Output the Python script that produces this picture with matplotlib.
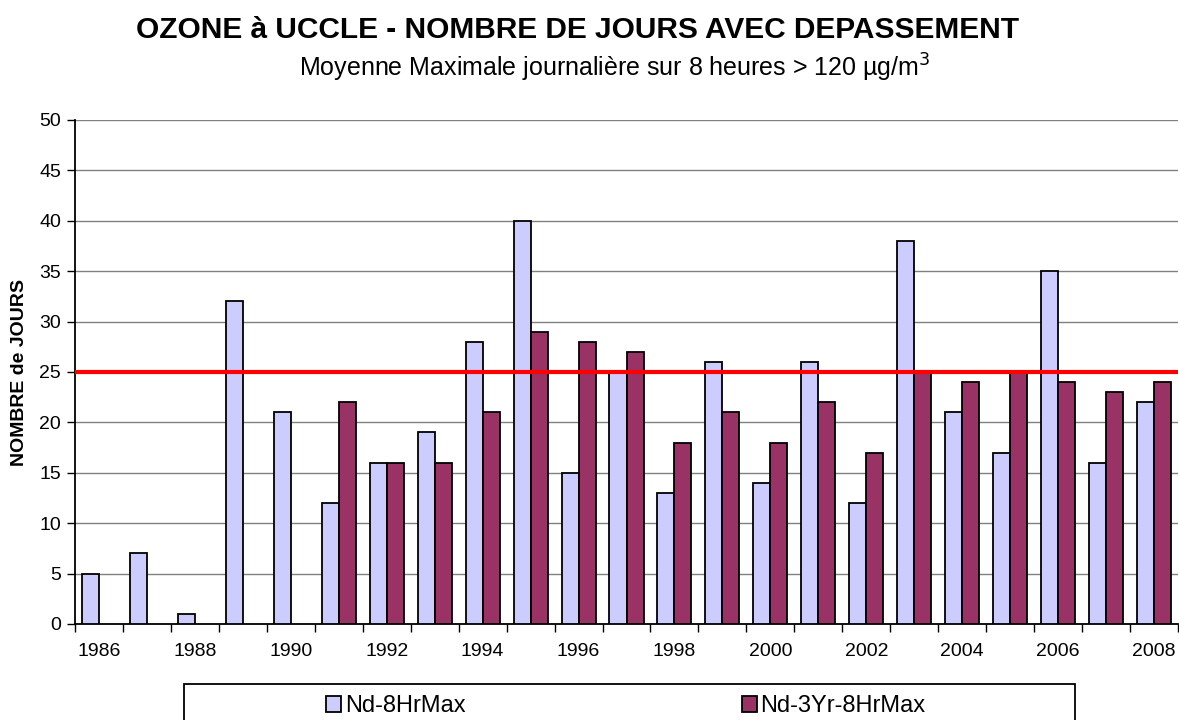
import numpy as np
import matplotlib.pyplot as plt
from matplotlib.patches import Rectangle

plt.rcParams['font.family'] = ['Liberation Sans', 'DejaVu Sans']

years = list(range(1986, 2009))
nd_8hrmax = [5, 7, 1, 32, 21, 12, 16, 19, 28, 40, 15, 25, 13, 26, 14, 26, 12, 38, 21, 17, 35, 16, 22]
nd_3yr_8hrmax = [0, 0, 0, 0, 0, 22, 16, 16, 21, 29, 28, 27, 18, 21, 18, 22, 17, 25, 24, 25, 24, 23, 24]
seuil = 25

fig = plt.figure(figsize=(11.79, 7.2), dpi=100)
ax = fig.add_axes([75/1179, 1-624/720, 1103/1179, 504/720])

x = np.arange(len(years))
w = 0.355
ax.bar(x - w/2, nd_8hrmax, w, color='#ccccff', edgecolor='black', linewidth=1.3,
       label='Nd-8HrMax', zorder=3)
# 3-year mean only exists from 1991
x3 = [xi for xi, v in zip(x, nd_3yr_8hrmax) if v > 0]
v3 = [v for v in nd_3yr_8hrmax if v > 0]
ax.bar(np.array(x3) + w/2, v3, w, color='#993366', edgecolor='black', linewidth=1.3,
       label='Nd-3Yr-8HrMax', zorder=3)
ax.axhline(seuil, color='#ff0000', linewidth=3, zorder=4)

ax.set_xlim(-0.5, len(years) - 0.5)
ax.set_ylim(0, 50)
ax.set_yticks(range(0, 51, 5))
ax.set_xticks(x[::2])
ax.set_xticklabels([str(y) for y in years[::2]])
ax.set_xticks(np.arange(-0.5, len(years), 1), minor=True)
ax.tick_params(axis='x', which='major', length=0, pad=14, labelsize=14)
ax.tick_params(axis='x', which='minor', length=6, width=1, color='black')
ax.tick_params(axis='y', length=6, width=1, labelsize=14, pad=4)
ax.grid(axis='y', color='#808080', linewidth=1, zorder=0)
for s in ['top', 'right']:
    ax.spines[s].set_visible(False)
ax.spines['left'].set_linewidth(1.3)
ax.spines['bottom'].set_linewidth(1.3)
ax.set_ylabel('NOMBRE de JOURS', fontsize=14, fontweight='bold', labelpad=8)

fig.text(578/1179, 1-30/720, 'OZONE à UCCLE - NOMBRE DE JOURS AVEC DEPASSEMENT',
         ha='center', va='center', fontsize=21.5, fontweight='bold')
fig.text(615/1179, 1-68/720, 'Moyenne Maximale journalière sur 8 heures > 120 µg/m$^3$',
         ha='center', va='center', fontsize=18)

fig.patches.append(Rectangle((184/1179, -0.05), 891/1179, 0.05 + 1-684/720,
                             transform=fig.transFigure, facecolor='white',
                             edgecolor='black', linewidth=1.3))
fig.legend(loc='center left', bbox_to_anchor=(314/1179, 1-706/720), ncol=2,
           frameon=False, fontsize=17, handlelength=0.65, handleheight=0.65,
           handletextpad=0.15, columnspacing=11.7, borderpad=0)

fig.savefig('out.png', dpi=100)
